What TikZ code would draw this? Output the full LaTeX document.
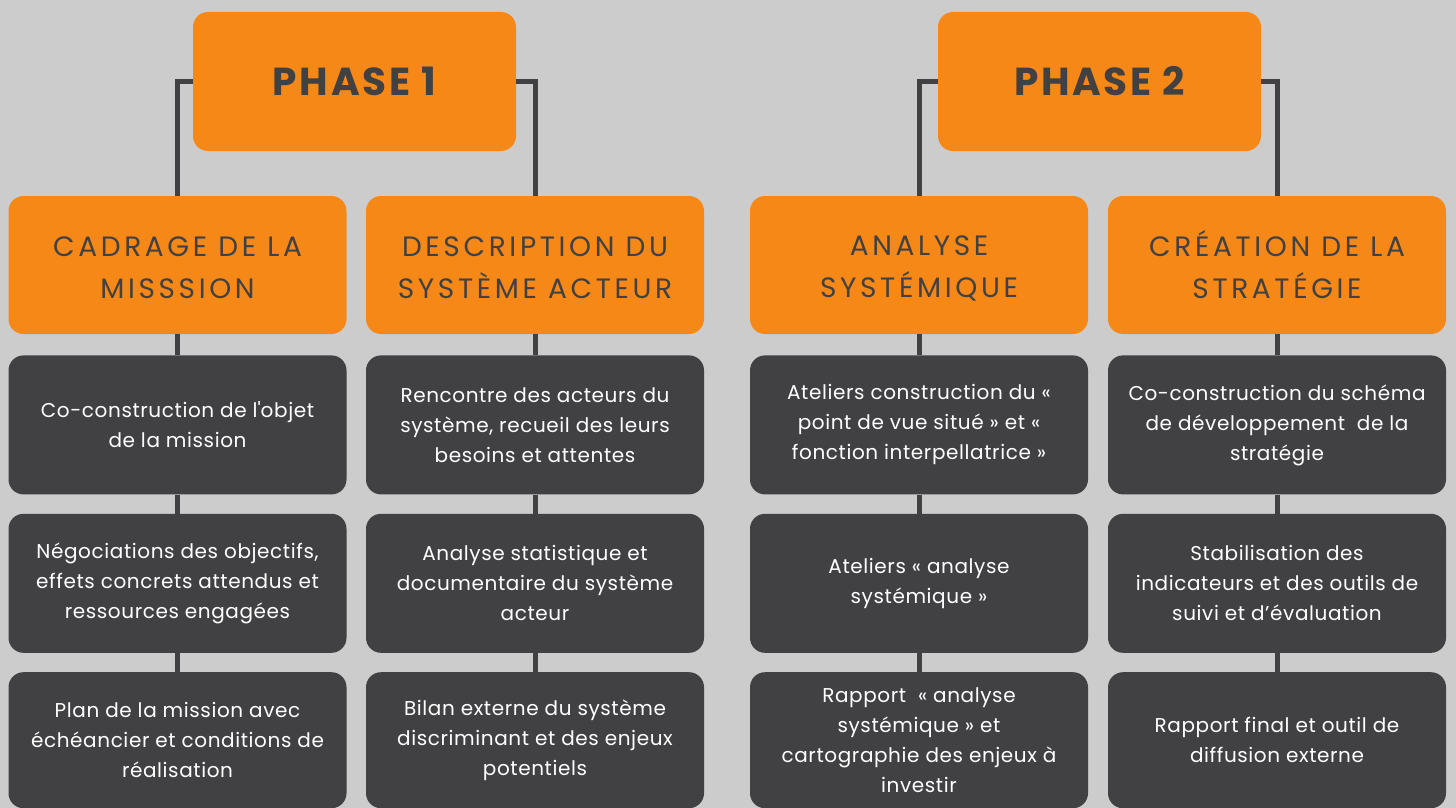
\documentclass[tikz,border=0pt]{standalone}
\usepackage{fontspec}
\setmainfont[LetterSpace=3]{Poppins}
\newfontfamily\headfont[LetterSpace=13]{Poppins}
\newfontfamily\phasefont[LetterSpace=7]{Poppins}
\usetikzlibrary{positioning}
\definecolor{bggray}{RGB}{204,204,204}
\definecolor{phaseorange}{RGB}{245,136,22}
\definecolor{boxdark}{RGB}{65,64,66}
\tikzset{
  phasebox/.style={fill=phaseorange, rounded corners=15pt, minimum width=323pt, minimum height=139pt, text=boxdark, font=\phasefont\fontsize{39}{40}\selectfont\bfseries},
  titlebox/.style={fill=phaseorange, rounded corners=15pt, minimum width=338pt, minimum height=138pt, text=boxdark, align=center, font=\headfont\fontsize{28}{42}\selectfont},
  stepbox/.style={fill=boxdark, rounded corners=15pt, minimum width=338pt, minimum height=139pt, text=white, align=center, font=\fontsize{20}{30}\selectfont},
  link/.style={draw=boxdark, line width=5pt}
}

\begin{document}
\begin{tikzpicture}[x=1pt, y=-1pt]
  \fill[bggray] (0,0) rectangle (1456,808);
  \useasboundingbox (0,0) rectangle (1456,808);

  % Phases
  \node[phasebox] (p1) at (354.5, 81.5) {PHASE 1};
  \node[phasebox] (p2) at (1099.5, 81.5) {PHASE 2};

  % Titles
  \node[titlebox] (cad) at (177.5, 265) {\vphantom{É}CADRAGE DE LA\\MISSSION};
  \node[titlebox] (desc) at (535, 265) {\vphantom{É}DESCRIPTION DU\\SYSTÈME ACTEUR};
  \node[titlebox] (ana) at (919, 265) {\vphantom{É}ANALYSE\\SYSTÉMIQUE};
  \node[titlebox] (crea) at (1277, 265) {\vphantom{É}CRÉATION DE LA\\STRATÉGIE};

  % Column 1
  \node[stepbox, below=21pt of cad] (cad1) {Co-construction de l\textquotesingle objet\\de la mission};
  \node[stepbox, below=19pt of cad1] (cad2) {Négociations des objectifs,\\effets concrets attendus et\\ressources engagées};
  \node[stepbox, below=19pt of cad2, minimum height=136pt] (cad3) {Plan de la mission avec\\échéancier et conditions de\\réalisation};

  % Column 2
  \node[stepbox, below=21pt of desc] (desc1) {Rencontre des acteurs du\\système, recueil des leurs\\besoins et attentes};
  \node[stepbox, below=19pt of desc1] (desc2) {Analyse statistique et\\documentaire du système\\acteur};
  \node[stepbox, below=19pt of desc2, minimum height=136pt] (desc3) {Bilan externe du système\\discriminant et des enjeux\\potentiels};

  % Column 3
  \node[stepbox, below=21pt of ana] (ana1) {Ateliers construction du «\\point de vue situé » et «\\fonction interpellatrice »};
  \node[stepbox, below=19pt of ana1] (ana2) {Ateliers « analyse\\systémique »};
  \node[stepbox, below=19pt of ana2, minimum height=136pt] (ana3) {Rapport~ « analyse\\systémique » et\\cartographie des enjeux à\\investir};

  % Column 4
  \node[stepbox, below=21pt of crea] (crea1) {Co-construction du schéma\\de développement~ de la\\stratégie};
  \node[stepbox, below=19pt of crea1] (crea2) {Stabilisation des\\indicateurs et des outils de\\suivi et d’évaluation};
  \node[stepbox, below=19pt of crea2, minimum height=136pt] (crea3) {Rapport final et outil de\\diffusion externe};

  % Links
  \draw[link] (p1.west) -| (cad.north);
  \draw[link] (p1.east) -| (desc.north);
  \draw[link] (p2.west) -| (ana.north);
  \draw[link] (p2.east) -| (crea.north);
  \foreach \col in {cad, desc, ana, crea} {
    \draw[link] (\col.south) -- (\col1.north);
    \draw[link] (\col1.south) -- (\col2.north);
    \draw[link] (\col2.south) -- (\col3.north);
  }
\end{tikzpicture}
\end{document}
